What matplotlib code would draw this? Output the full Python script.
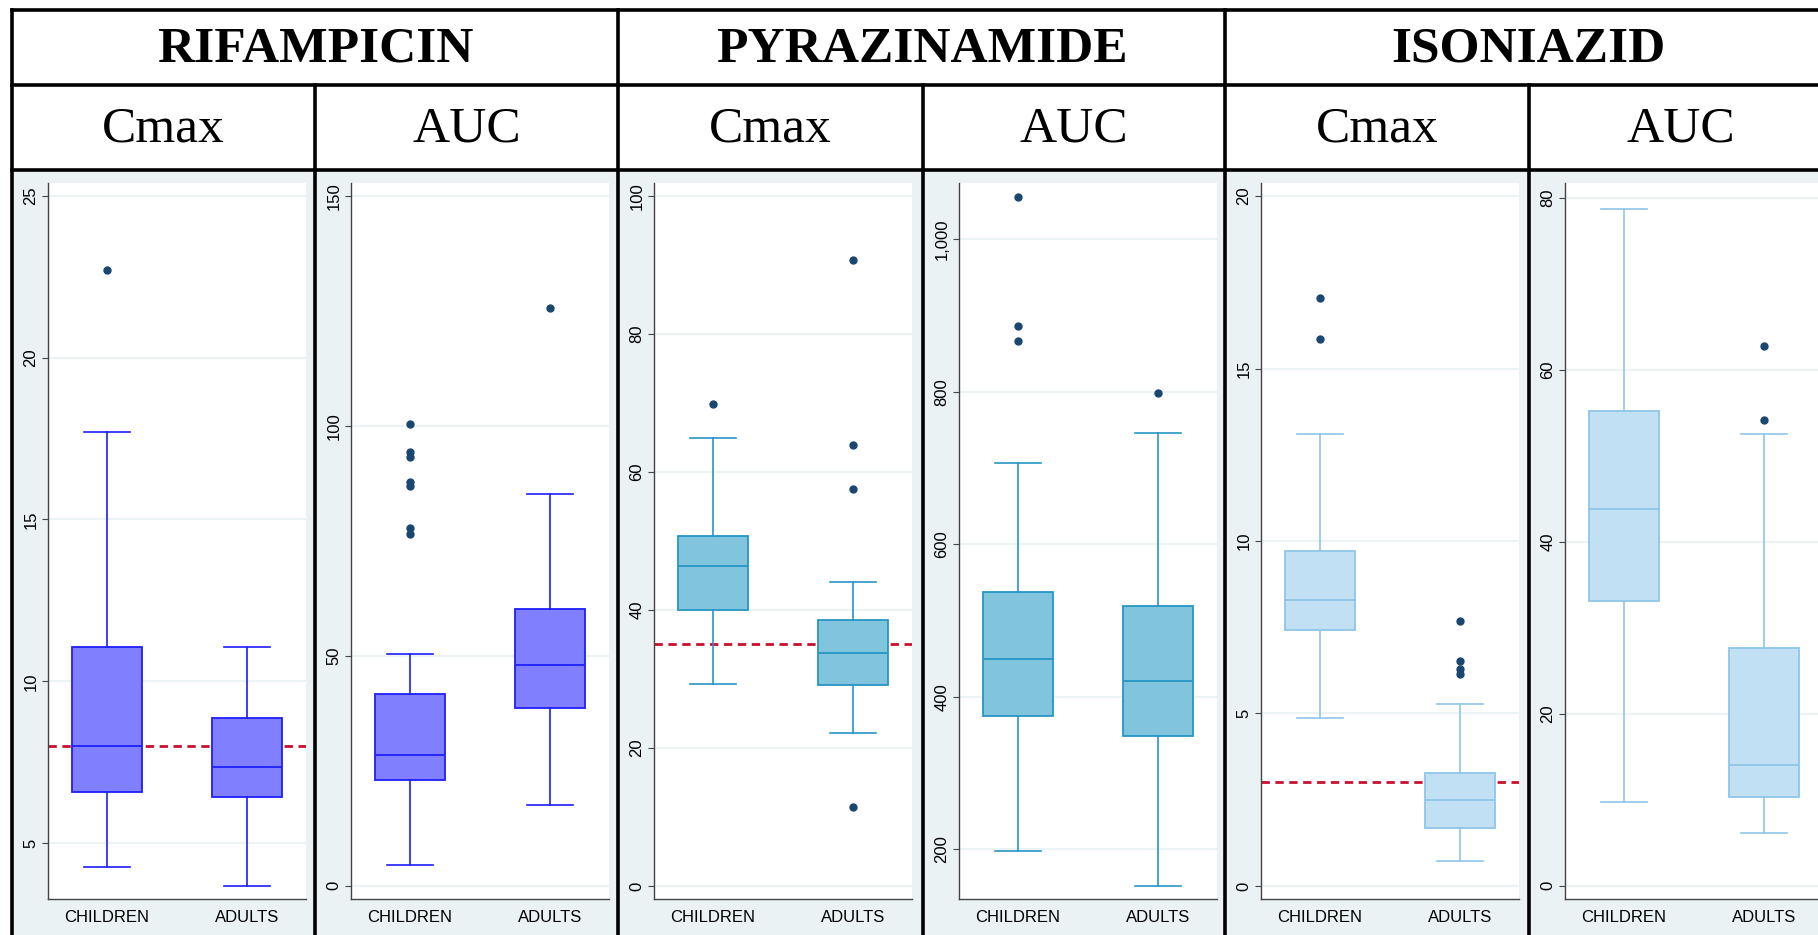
import matplotlib
matplotlib.use("Agg")
import matplotlib.pyplot as plt
from matplotlib.patches import Rectangle
from matplotlib.lines import Line2D
from matplotlib.ticker import StrMethodFormatter

W, H = 1818, 935

# groups on the x axis
groups = ["CHILDREN", "ADULTS"]
drugs = ["RIFAMPICIN", "PYRAZINAMIDE", "ISONIAZID"]
measures = ["Cmax", "AUC"]

# box stats per group: whislo, q1, median, q3, whishi
rif_cmax_stats = [[4.26, 6.57, 8.0, 11.05, 17.7], [3.67, 6.41, 7.34, 8.86, 11.05]]
rif_cmax_fliers = [[22.7], []]
rif_auc_stats = [[4.4, 22.9, 28.5, 41.7, 50.4], [17.6, 38.7, 48.1, 60.3, 85.3]]
rif_auc_fliers = [[100.4, 94.3, 93.3, 87.9, 86.9, 77.9, 76.5], [125.7]]

pza_cmax_stats = [[29.3, 40.0, 46.4, 50.7, 65.0], [22.1, 29.1, 33.8, 38.5, 44.0]]
pza_cmax_fliers = [[69.9], [90.7, 63.9, 57.5, 11.5]]
pza_auc_stats = [[198, 374.4, 449.2, 537.4, 706.7], [152.1, 348.9, 420.4, 519.5, 745.7]]
pza_auc_fliers = [[1055.6, 886.9, 866.5], [798.7]]

inh_cmax_stats = [[4.86, 7.41, 8.28, 9.72, 13.09], [0.72, 1.69, 2.50, 3.28, 5.28]]
inh_cmax_fliers = [[17.06, 15.86], [7.69, 6.52, 6.28, 6.15]]
inh_auc_stats = [[9.8, 33.1, 43.8, 55.2, 78.7], [6.1, 10.3, 14.0, 27.7, 52.5]]
inh_auc_fliers = [[], [62.7, 54.2]]

# reference (target) lines, only on Cmax panels
rif_cmax_ref = 8.0
pza_cmax_ref = 35.0
inh_cmax_ref = 3.0

# axis ticks
rif_cmax_ticks = [5, 10, 15, 20, 25]
rif_auc_ticks = [0, 50, 100, 150]
pza_cmax_ticks = [0, 20, 40, 60, 80, 100]
pza_auc_ticks = [200, 400, 600, 800, 1000]
inh_cmax_ticks = [0, 5, 10, 15, 20]
inh_auc_ticks = [0, 20, 40, 60, 80]

panels = [
    (rif_cmax_stats, rif_cmax_fliers, rif_cmax_ref, rif_cmax_ticks, (3.27, 25.4), 0),
    (rif_auc_stats, rif_auc_fliers, None, rif_auc_ticks, (-2.9, 152.9), 0),
    (pza_cmax_stats, pza_cmax_fliers, pza_cmax_ref, pza_cmax_ticks, (-1.9, 101.9), 1),
    (pza_auc_stats, pza_auc_fliers, None, pza_auc_ticks, (134.8, 1074), 1),
    (inh_cmax_stats, inh_cmax_fliers, inh_cmax_ref, inh_cmax_ticks, (-0.38, 20.38), 2),
    (inh_auc_stats, inh_auc_fliers, None, inh_auc_ticks, (-1.53, 81.7), 2),
]

# colours per drug: (fill, edge)
drug_colors = [("#8080ff", "#1e1eff"), ("#80c4de", "#2796c4"), ("#c2e0f4", "#8ec6e8")]
bg = "#eaf2f3"
navy = "#1a476f"
red = "#c8102e"


def fx(x):
    return x / W


def fy(y):
    return 1 - y / H


fig = plt.figure(figsize=(W / 100, H / 100), dpi=100)
fig.patch.set_facecolor("white")

col_x = [12, 315, 618, 923, 1225, 1529, 1832]
top, row1, row2 = 10, 85, 170

# panel backgrounds
for i in range(6):
    fig.patches.append(Rectangle((fx(col_x[i]), 0), fx(col_x[i + 1] - col_x[i]), fy(row2),
                                 transform=fig.transFigure, facecolor=bg, edgecolor="none", zorder=-1))

for i, (stats, fliers, ref, ticks, ylim, d) in enumerate(panels):
    left = col_x[i] + 36
    ax = fig.add_axes([fx(left), fy(899), fx(258), fy(183) - fy(899)])
    ax.set_zorder(1)
    ax.set_facecolor("white")
    fill, edge = drug_colors[d]
    bstats = []
    for g in range(2):
        lo, q1, med, q3, hi = stats[g]
        bstats.append(dict(whislo=lo, q1=q1, med=med, q3=q3, whishi=hi, fliers=fliers[g], label=groups[g]))
    ax.bxp(bstats, positions=[1, 2], widths=0.5, capwidths=0.33, patch_artist=True,
           boxprops=dict(facecolor=fill, edgecolor=edge, linewidth=1.3),
           medianprops=dict(color=edge, linewidth=1.3),
           whiskerprops=dict(color=edge, linewidth=1.2),
           capprops=dict(color=edge, linewidth=1.2),
           flierprops=dict(marker="o", markerfacecolor=navy, markeredgecolor=navy, markersize=5))
    if ref is not None:
        # dashed line sits under the boxes
        ax.axhline(ref, color=red, linewidth=2, linestyle=(0, (3, 2)), zorder=1.5)
    ax.set_xlim(0.577, 2.423)
    ax.set_ylim(*ylim)
    ax.set_yticks(ticks)
    ax.yaxis.set_major_formatter(StrMethodFormatter("{x:,.0f}"))
    ax.set_axisbelow(True)
    ax.yaxis.grid(True, color=bg, linewidth=1.3)
    for s in ["top", "right"]:
        ax.spines[s].set_visible(False)
    for s in ["left", "bottom"]:
        ax.spines[s].set_color("#444444")
        ax.spines[s].set_linewidth(1.0)
    ax.tick_params(axis="x", length=0, pad=8, labelsize=12)
    ax.tick_params(axis="y", length=4, width=0.8, color="#444444", pad=3, labelsize=12,
                   labelrotation=90)
    for lab in ax.get_yticklabels():
        lab.set_verticalalignment("center")
    for lab in ax.get_xticklabels() + ax.get_yticklabels():
        lab.set_fontfamily("Liberation Sans")

# header text
for d, name in enumerate(drugs):
    cx = (col_x[2 * d] + col_x[2 * d + 2]) / 2
    fig.text(fx(cx), fy((top + row1) / 2 + 2), name, ha="center", va="center",
             fontsize=37, fontweight="bold", fontfamily="Liberation Serif")
    for m in range(2):
        sx = (col_x[2 * d + m] + col_x[2 * d + m + 1]) / 2
        fig.text(fx(sx), fy((row1 + row2) / 2 + 2), measures[m], ha="center", va="center",
                 fontsize=37, fontfamily="Liberation Serif")

# table borders
lw = 2.6
for y in [top, row1, row2]:
    fig.add_artist(Line2D([fx(col_x[0]), 1], [fy(y), fy(y)], color="black", linewidth=lw, zorder=10))
for x in [col_x[0], col_x[2], col_x[4]]:
    fig.add_artist(Line2D([fx(x), fx(x)], [fy(top), 0], color="black", linewidth=lw, zorder=10))
for x in [col_x[1], col_x[3], col_x[5]]:
    fig.add_artist(Line2D([fx(x), fx(x)], [fy(row1), 0], color="black", linewidth=lw, zorder=10))

fig.savefig("out.png", dpi=100)
